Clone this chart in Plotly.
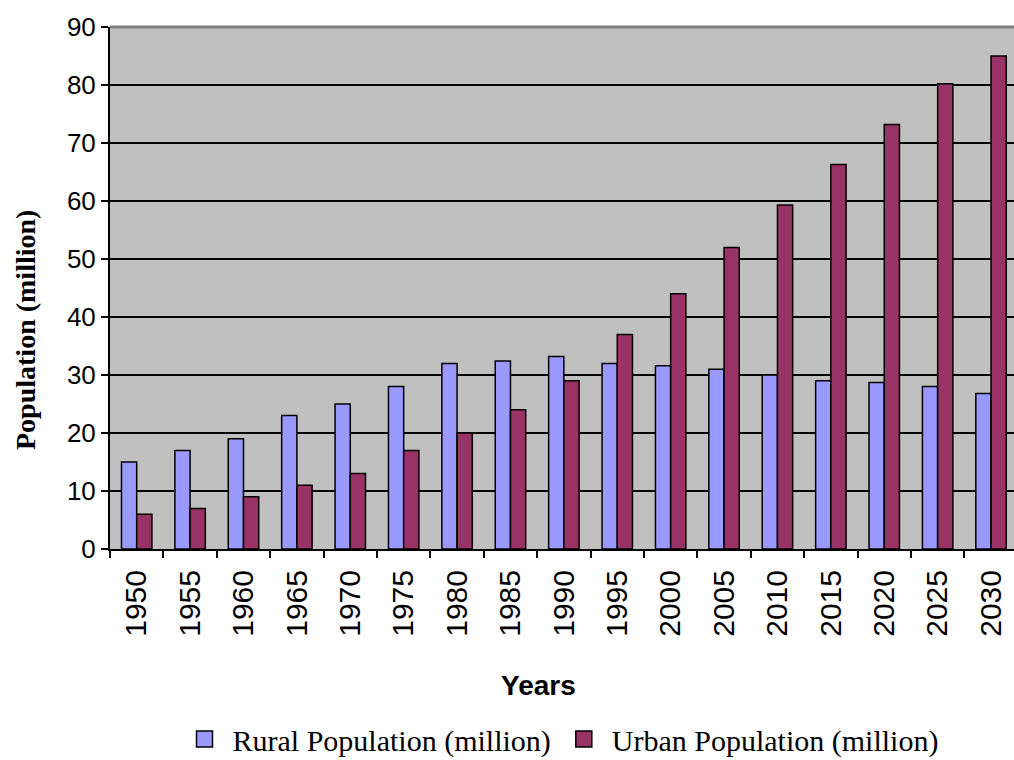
import plotly.graph_objects as go

# Population series, in millions, by year
years = ["1950", "1955", "1960", "1965", "1970", "1975", "1980", "1985", "1990",
         "1995", "2000", "2005", "2010", "2015", "2020", "2025", "2030"]
rural = [15, 17, 19, 23, 25, 28, 32, 32.4, 33.2, 32, 31.6, 31, 30, 29, 28.7, 28, 26.8]
urban = [6, 7, 9, 11, 13, 17, 20, 24, 29, 37, 44, 52, 59.3, 66.3, 73.2, 80.2, 85]

series_names = ["Rural Population (million)", "Urban Population (million)"]
series_colors = ["#9999FF", "#993366"]

W, H = 1014, 760
ML, MR, MT, MB = 110, 0, 27, 211
plot_w = W - ML - MR
plot_h = H - MT - MB

fig = go.Figure()
for vals, name, color in zip([rural, urban], series_names, series_colors):
    fig.add_trace(go.Bar(
        x=years, y=vals, name=name, showlegend=False,
        marker=dict(color=color, line=dict(color="black", width=1.5)),
    ))
    # legend entry with a larger square swatch
    fig.add_trace(go.Scatter(
        x=[None], y=[None], mode="markers", name=name,
        marker=dict(symbol="square", size=16, color=color,
                    line=dict(color="black", width=1.5)),
    ))

fig.update_layout(
    width=W, height=H,
    margin=dict(l=ML, r=MR, t=MT, b=MB, pad=0, autoexpand=False),
    paper_bgcolor="white",
    plot_bgcolor="#C0C0C0",
    barmode="group",
    bargap=0.43,
    bargroupgap=0,
    showlegend=True,
    legend=dict(
        orientation="h", x=(560 - ML) / plot_w, xanchor="center",
        y=-(190 / plot_h), yanchor="middle",
        font=dict(family="Liberation Serif", size=30, color="black"),
        itemwidth=46, tracegroupgap=0,
        bgcolor="rgba(0,0,0,0)",
    ),
    xaxis=dict(
        type="category",
        range=[-0.5, 16.43],
        automargin=False,
        tickangle=-90,
        tickfont=dict(family="Liberation Sans", size=30, color="black"),
        ticklabelstandoff=7,
        ticks="outside", ticklen=7, tickwidth=2, tickcolor="black",
        tickson="boundaries",
        showline=True, linecolor="black", linewidth=2,
        showgrid=False, zeroline=False,
    ),
    yaxis=dict(
        range=[0, 90], dtick=10,
        automargin=False,
        tickfont=dict(family="Liberation Sans", size=26, color="black"),
        ticks="outside", ticklen=7, tickwidth=2, tickcolor="black",
        showline=True, linecolor="black", linewidth=2,
        showgrid=True, gridcolor="black", gridwidth=2,
        zeroline=False,
    ),
    annotations=[
        dict(text="<b>Years</b>", xref="paper", yref="paper",
             x=(538 - ML) / plot_w, y=-(136 / plot_h),
             xanchor="center", yanchor="middle", showarrow=False,
             font=dict(family="Liberation Sans", size=28, color="black")),
        dict(text="<b>Population (million)</b>", xref="paper", yref="paper",
             x=(25 - ML) / plot_w, y=(549 - 330) / plot_h, textangle=-90,
             xanchor="center", yanchor="middle", showarrow=False,
             font=dict(family="Liberation Serif", size=28, color="black")),
    ],
    shapes=[
        dict(type="line", xref="paper", yref="paper", x0=0, x1=1, y0=1, y1=1,
             line=dict(color="#808080", width=3)),
    ],
)

fig.write_html("out.html")
